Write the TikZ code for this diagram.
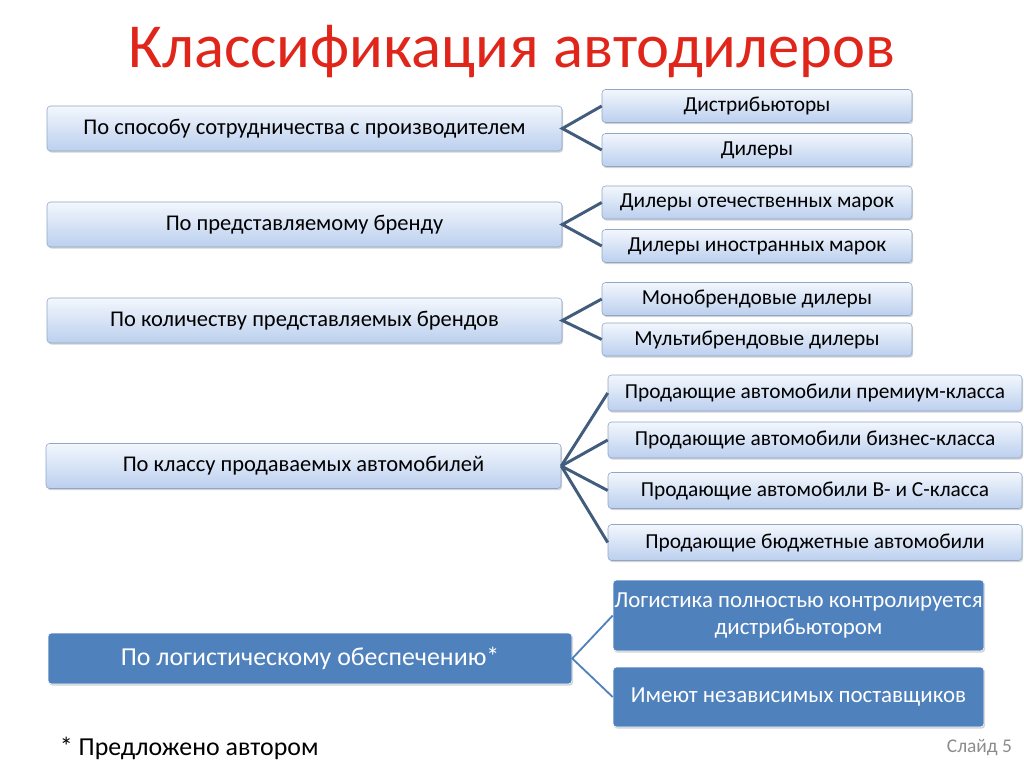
\documentclass[tikz,border=0pt]{standalone}
\usepackage{fontspec}
\setmainfont{Carlito}
\usetikzlibrary{shadows}
\definecolor{titlered}{HTML}{E0261B}
\definecolor{boxtop}{HTML}{F3F7FD}
\definecolor{boxbot}{HTML}{BBCFEE}
\definecolor{boxline}{HTML}{8FA6C6}
\definecolor{linkline}{HTML}{425C7C}
\definecolor{logblue}{HTML}{4F81BD}
\definecolor{sidegray}{HTML}{8C8C8C}
\begin{document}
\begin{tikzpicture}[x=0.025cm, y=-0.025cm,
    boxshadow/.style={drop shadow={opacity=0.35, shadow xshift=0.8pt, shadow yshift=-1.2pt}},
    lightbox/.style={draw=boxline, rounded corners=2.5pt, top color=boxtop, bottom color=boxbot,
        boxshadow, font=\fontsize{15.2pt}{18pt}\selectfont, inner sep=0pt},
    leftbox/.style={lightbox, minimum width=515*0.025cm, minimum height=45*0.025cm,
        font=\fontsize{16pt}{19pt}\selectfont},
    rightbox/.style={lightbox, minimum width=310*0.025cm, minimum height=33*0.025cm},
    classbox/.style={lightbox, minimum width=414*0.025cm, minimum height=36*0.025cm},
    bluebox/.style={draw=white, fill=logblue, rounded corners=2.5pt, text=white, boxshadow,
        font=\fontsize{16.3pt}{19.5pt}\selectfont, inner sep=0pt, align=center},
    link/.style={draw=linkline, line width=2.1pt},
    bluelink/.style={draw=logblue, line width=1.3pt}]
    \useasboundingbox (0,0) rectangle (1024,767);

    % Title
    \node[text=titlered, font=\fontsize{44.5pt}{52pt}\selectfont] (title) at (512,52) {Классификация автодилеров};

    % Classification criteria
    \node[leftbox] (L1) at (304.5,128.5) {По способу сотрудничества с производителем};
    \node[leftbox] (L2) at (304.5,224.5) {По представляемому бренду};
    \node[leftbox] (L3) at (304.5,320.5) {По количеству представляемых брендов};
    \node[leftbox] (L4) at (303.5,466) {По классу продаваемых автомобилей};
    \node[bluebox, minimum width=524*0.025cm, minimum height=51*0.025cm,
        font=\fontsize{18.4pt}{22pt}\selectfont] (L5) at (310,658.5) {По логистическому обеспечению*};

    % Dealer types
    \node[rightbox] (R1a) at (757,106) {Дистрибьюторы};
    \node[rightbox] (R1b) at (757,150) {Дилеры};
    \node[rightbox] (R2a) at (757,202.5) {Дилеры отечественных марок};
    \node[rightbox] (R2b) at (757,246) {Дилеры иностранных марок};
    \node[rightbox] (R3a) at (757,299) {Монобрендовые дилеры};
    \node[rightbox] (R3b) at (757,339.5) {Мультибрендовые дилеры};

    \node[classbox] (R4a) at (815,393) {Продающие автомобили премиум-класса};
    \node[classbox] (R4b) at (815,440) {Продающие автомобили бизнес-класса};
    \node[classbox] (R4c) at (815,490.5) {Продающие автомобили B- и C-класса};
    \node[classbox] (R4d) at (815,542.5) {Продающие бюджетные автомобили};

    \node[bluebox, minimum width=371*0.025cm, minimum height=71*0.025cm] (R5a) at (798.5,615.5) {Логистика полностью контролируется\\дистрибьютором};
    \node[bluebox, minimum width=371*0.025cm, minimum height=60*0.025cm] (R5b) at (798.5,697) {Имеют независимых поставщиков};

    % Links
    \draw[link] (R1a.west) -- (L1.east) -- (R1b.west);
    \draw[link] (R2a.west) -- (L2.east) -- (R2b.west);
    \draw[link] (R3a.west) -- (L3.east) -- (R3b.west);
    \foreach \r in {R4a,R4b,R4c,R4d}
        \draw[link] (L4.east) -- (\r.west);
    \draw[bluelink] (R5a.west) -- (L5.east) -- (R5b.west);

    % Footer
    \node[anchor=west, font=\fontsize{18.4pt}{22pt}\selectfont] (note) at (55,748) {* Предложено автором};
    \node[anchor=east, text=sidegray, font=\fontsize{13.8pt}{16pt}\selectfont] (slide) at (1017,748) {Слайд 5};
\end{tikzpicture}
\end{document}
